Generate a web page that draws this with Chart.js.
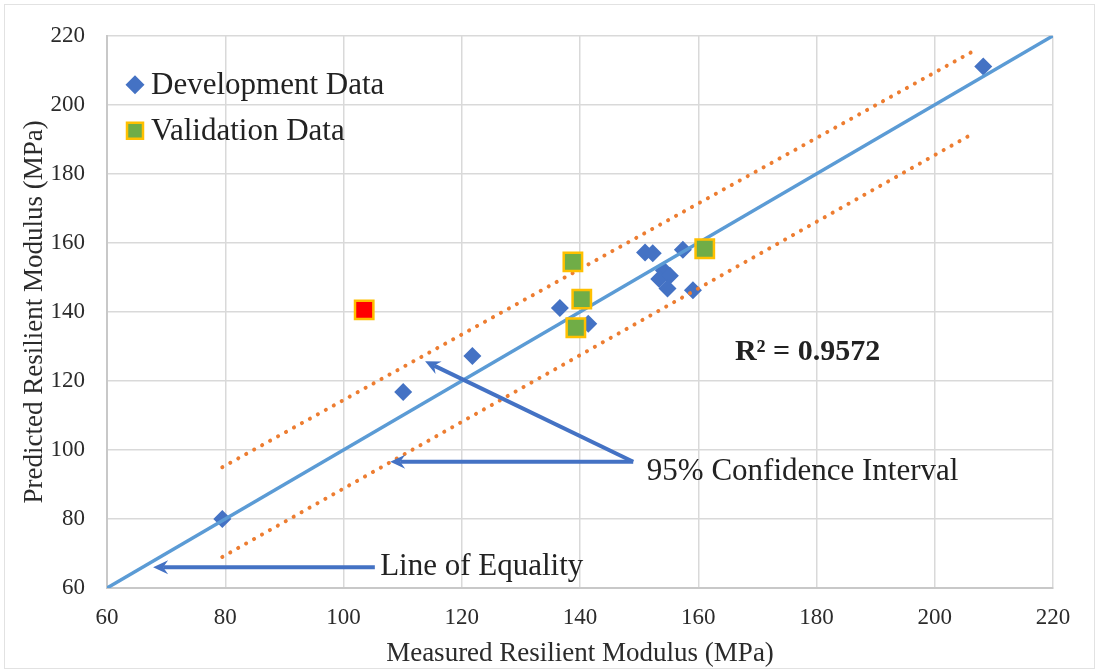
<!DOCTYPE html>
<html>
<head>
<meta charset="utf-8">
<script src="https://cdn.jsdelivr.net/npm/chart.js@4.4.1/dist/chart.umd.min.js"></script>
<style>
  html, body { margin: 0; padding: 0; background: #ffffff; }
  #wrap { width: 1098px; height: 672px; position: relative; }
</style>
</head>
<body>
<div id="wrap"><canvas id="chart" width="1098" height="672"></canvas></div>
<script>
// ---- data ----
const axisTicks = [60, 80, 100, 120, 140, 160, 180, 200, 220];

const devMeasured  = [79.5, 110.1, 121.8, 136.6, 141.4, 151.0, 152.3, 157.4, 154.2, 153.4, 155.2, 154.8, 159.1, 208.2];
const devPredicted = [80.0, 116.8, 127.2, 141.1, 136.6, 157.2, 157.0, 158.0, 152.0, 149.5, 150.5, 146.8, 146.3, 211.1];

const valMeasured  = [138.8, 140.3, 139.3, 161.1, 103.5];
const valPredicted = [154.5, 143.7, 135.4, 158.3, 140.6];

const equalityX = [60, 220];
const equalityY = [60, 220];

const upperBandX = [79.5, 207.3];
const upperBandY = [95.0, 216.3];
const lowerBandX = [79.5, 206.8];
const lowerBandY = [69.0, 192.0];

const rSquared = 0.9572;

// ---- styling ----
const SERIF = "'Liberation Serif', 'Times New Roman', serif";
const DEV_BLUE = '#4472C4';
const VAL_GREEN = '#70AD47';
const VAL_EDGE = '#FFC000';
const OUTLIER_RED = '#FF0000';
const EQ_BLUE = '#5B9BD5';
const BAND_ORANGE = '#ED7D31';
const GRID = '#d9d9d9';
const TEXT = '#222222';

const pts = (xs, ys) => xs.map((x, i) => ({ x: x, y: ys[i] }));

// callouts, given in axis units
const callouts = [
  { text: 'Line of Equality', at: [106.2, 66.0],
    arrows: [[[105.3, 66.0], [67.8, 66.0]]] },
  { text: '95% Confidence Interval', at: [151.3, 93.6],
    arrows: [[[149.0, 96.6], [107.9, 96.6]], [[149.0, 96.6], [113.8, 125.7]]] }
];
const r2Anchor = [166.2, 128.2];

function drawArrow(ctx, x1, y1, x2, y2) {
  const a = Math.atan2(y2 - y1, x2 - x1);
  const L = 15, W = 7, N = 10;
  const c = Math.cos(a), s = Math.sin(a);
  ctx.beginPath();
  ctx.moveTo(x1, y1);
  ctx.lineTo(x2 - c * N, y2 - s * N);
  ctx.stroke();
  ctx.beginPath();
  ctx.moveTo(x2, y2);
  ctx.lineTo(x2 - L * c + W * s, y2 - L * s - W * c);
  ctx.lineTo(x2 - N * c, y2 - N * s);
  ctx.lineTo(x2 - L * c - W * s, y2 - L * s + W * c);
  ctx.closePath();
  ctx.fill();
}

const overlay = {
  id: 'overlay',
  beforeDraw(chart) {
    const ctx = chart.ctx;
    ctx.save();
    ctx.fillStyle = '#ffffff';
    ctx.fillRect(0, 0, chart.width, chart.height);
    ctx.strokeStyle = '#e2e2e2';
    ctx.lineWidth = 1;
    ctx.strokeRect(4.5, 4.5, chart.width - 8, chart.height - 8);
    ctx.restore();
  },
  afterDraw(chart) {
    const ctx = chart.ctx;
    const xs = chart.scales.x, ys = chart.scales.y;
    const px = v => xs.getPixelForValue(v);
    const py = v => ys.getPixelForValue(v);
    ctx.save();

    // callout arrows and labels
    ctx.strokeStyle = DEV_BLUE;
    ctx.fillStyle = DEV_BLUE;
    ctx.lineWidth = 4;
    ctx.lineCap = 'butt';
    callouts.forEach(cl => {
      cl.arrows.forEach(ar => drawArrow(ctx, px(ar[0][0]), py(ar[0][1]), px(ar[1][0]), py(ar[1][1])));
    });
    ctx.fillStyle = TEXT;
    ctx.textAlign = 'left';
    ctx.textBaseline = 'middle';
    ctx.font = '31px ' + SERIF;
    callouts.forEach(cl => ctx.fillText(cl.text, px(cl.at[0]), py(cl.at[1])));

    // R-squared note
    ctx.font = 'bold 30px ' + SERIF;
    ctx.fillText('R\u00B2 = ' + rSquared.toFixed(4), px(r2Anchor[0]), py(r2Anchor[1]));

    // legend for the two point series
    const area = chart.chartArea;
    const rows = [
      { ds: chart.data.datasets[0], y: area.top + 49 },
      { ds: chart.data.datasets[1], y: area.top + 95 }
    ];
    ctx.font = '31px ' + SERIF;
    rows.forEach(r => {
      const mx = area.left + 28;
      const st = r.ds.pointStyle;
      ctx.beginPath();
      if (st === 'rectRot') {
        const rr = 9.5;
        ctx.moveTo(mx, r.y - rr); ctx.lineTo(mx + rr, r.y); ctx.lineTo(mx, r.y + rr); ctx.lineTo(mx - rr, r.y);
        ctx.closePath();
        ctx.fillStyle = DEV_BLUE;
        ctx.fill();
      } else {
        ctx.rect(mx - 8, r.y - 8, 16, 16);
        ctx.fillStyle = VAL_GREEN;
        ctx.fill();
        ctx.lineWidth = 2.5;
        ctx.strokeStyle = VAL_EDGE;
        ctx.stroke();
      }
      ctx.fillStyle = TEXT;
      ctx.fillText(r.ds.label, area.left + 44, r.y + 1);
    });
    ctx.restore();
  }
};

const tickFont = { family: SERIF, size: 23 };
const titleFont = { family: SERIF, size: 27 };

new Chart(document.getElementById('chart'), {
  type: 'scatter',
  data: {
    datasets: [
      {
        label: 'Development Data',
        data: pts(devMeasured, devPredicted),
        pointStyle: 'rectRot',
        pointRadius: 9,
        pointHoverRadius: 9,
        backgroundColor: DEV_BLUE,
        borderColor: DEV_BLUE,
        borderWidth: 0,
        order: 5
      },
      {
        label: 'Validation Data',
        data: pts(valMeasured, valPredicted),
        pointStyle: 'rect',
        pointRadius: 13,
        pointHoverRadius: 13,
        backgroundColor: valMeasured.map((_, i) => i === valMeasured.length - 1 ? OUTLIER_RED : VAL_GREEN),
        borderColor: VAL_EDGE,
        borderWidth: 2.5,
        order: 1
      },
      {
        label: 'Line of Equality',
        type: 'line',
        data: pts(equalityX, equalityY),
        borderColor: EQ_BLUE,
        borderWidth: 3.5,
        pointRadius: 0,
        fill: false,
        order: 3
      },
      {
        label: 'Upper 95% Bound',
        type: 'line',
        data: pts(upperBandX, upperBandY),
        borderColor: BAND_ORANGE,
        borderWidth: 4,
        borderDash: [0.1, 9],
        borderCapStyle: 'round',
        pointRadius: 0,
        fill: false,
        order: 2
      },
      {
        label: 'Lower 95% Bound',
        type: 'line',
        data: pts(lowerBandX, lowerBandY),
        borderColor: BAND_ORANGE,
        borderWidth: 4,
        borderDash: [0.1, 9],
        borderCapStyle: 'round',
        pointRadius: 0,
        fill: false,
        order: 2
      }
    ]
  },
  options: {
    responsive: false,
    animation: false,
    devicePixelRatio: 1,
    layout: { padding: { left: 0, top: 28, right: 45, bottom: 0 } },
    plugins: {
      legend: { display: false },
      tooltip: { enabled: false },
      title: { display: false }
    },
    scales: {
      x: {
        type: 'linear',
        min: axisTicks[0],
        max: axisTicks[axisTicks.length - 1],
        afterBuildTicks: s => { s.ticks = axisTicks.map(v => ({ value: v })); },
        afterFit: s => { s.height = 84; },
        grid: { color: GRID, lineWidth: 1.5, drawTicks: false },
        border: { display: true, color: '#c8c8c8', width: 2 },
        ticks: { font: tickFont, color: '#2b2b2b', padding: 16, maxRotation: 0 },
        title: { display: true, text: 'Measured Resilient Modulus (MPa)', font: titleFont, color: '#2b2b2b', padding: { top: 0, bottom: 2 } }
      },
      y: {
        type: 'linear',
        min: axisTicks[0],
        max: axisTicks[axisTicks.length - 1],
        afterBuildTicks: s => { s.ticks = axisTicks.map(v => ({ value: v })); },
        afterFit: s => { s.width = 107; },
        grid: { color: GRID, lineWidth: 1.5, drawTicks: false },
        border: { display: true, color: '#c8c8c8', width: 2 },
        ticks: { font: tickFont, color: '#2b2b2b', padding: 22 },
        title: { display: true, text: 'Predicted Resilient Modulus (MPa)', font: titleFont, color: '#2b2b2b', padding: { top: 19, bottom: 0 } }
      }
    }
  },
  plugins: [overlay]
});
</script>
</body>
</html>
